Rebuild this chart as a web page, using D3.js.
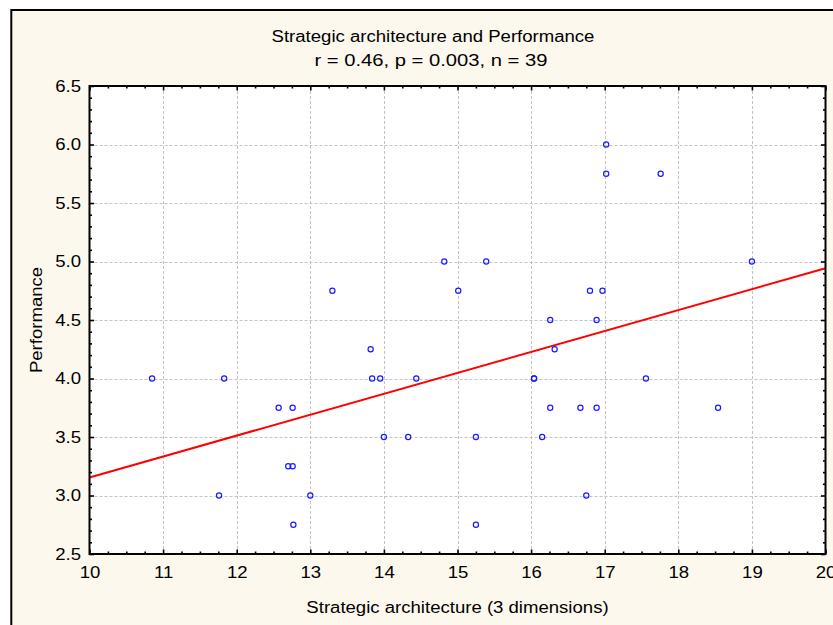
<!DOCTYPE html>
<html>
<head>
<meta charset="utf-8">
<script src="https://cdn.jsdelivr.net/npm/d3@7"></script>
<style>
  html, body { margin: 0; padding: 0; background: #ffffff; }
  svg { display: block; }
  text { font-family: "Liberation Sans", Arial, sans-serif; fill: #000; }
</style>
</head>
<body>
<svg id="chart" width="833" height="625"></svg>
<script>
// Strategic architecture score (x) versus Performance (y), one point per respondent
const architecture = [
  10.85, 11.83, 11.76, 12.57, 12.76, 12.70, 12.76, 12.77, 13.00, 13.30,
  13.82, 13.84, 13.95, 14.00, 14.33, 14.44, 14.82, 15.01, 15.39, 15.25,
  15.25, 16.04, 16.15, 16.26, 16.32, 16.26, 16.67, 16.75, 16.80, 16.89,
  16.89, 16.97, 17.02, 17.02, 17.76, 17.56, 18.54, 19.00, 16.04
];
const performance = [
  4.00, 4.00, 3.00, 3.75, 3.75, 3.25, 3.25, 2.75, 3.00, 4.75,
  4.25, 4.00, 4.00, 3.50, 3.50, 4.00, 5.00, 4.75, 5.00, 3.50,
  2.75, 4.00, 3.50, 4.50, 4.25, 3.75, 3.75, 3.00, 4.75, 4.50,
  3.75, 4.75, 6.00, 5.75, 5.75, 4.00, 3.75, 5.00, 4.00
];

// Fitted regression line: Performance = intercept + slope * Architecture
const fitIntercept = 1.366;
const fitSlope = 0.1788;

const xTicks = [10, 11, 12, 13, 14, 15, 16, 17, 18, 19, 20];
const yTicks = [2.5, 3.0, 3.5, 4.0, 4.5, 5.0, 5.5, 6.0, 6.5];

const titleText = "Strategic architecture and Performance";
const subtitleText = "r = 0.46, p = 0.003, n = 39";
const xTitle = "Strategic architecture (3 dimensions)";
const yTitle = "Performance";

const svg = d3.select("#chart");
const plotL = 89.5, plotR = 825.5, plotT = 86, plotB = 554;
const stretch = 1.16;

const x = d3.scaleLinear().domain([10, 20]).range([plotL, plotR]);
const y = d3.scaleLinear().domain([2.5, 6.5]).range([plotB, plotT]);

// Outer panel
svg.append("rect")
  .attr("x", 11.3).attr("y", 10)
  .attr("width", 900).attr("height", 700)
  .attr("fill", "#fdf8ee").attr("stroke", "#000").attr("stroke-width", 2);

// Plot area
svg.append("rect")
  .attr("x", plotL).attr("y", plotT)
  .attr("width", plotR - plotL).attr("height", plotB - plotT)
  .attr("fill", "#ffffff");

// Dashed grid at the major ticks
const grid = svg.append("g")
  .attr("stroke", "#c4c4c4").attr("stroke-width", 1)
  .attr("stroke-dasharray", "3,2");
grid.selectAll("line.gx")
  .data(xTicks.slice(1, -1)).join("line")
  .attr("x1", d => Math.round(x(d)) + 0.5).attr("x2", d => Math.round(x(d)) + 0.5)
  .attr("y1", plotT).attr("y2", plotB);
grid.selectAll("line.gy")
  .data(yTicks.slice(1, -1)).join("line")
  .attr("y1", d => Math.round(y(d)) + 0.5).attr("y2", d => Math.round(y(d)) + 0.5)
  .attr("x1", plotL).attr("x2", plotR);

// Regression line across the full x range
const fit = d => fitIntercept + fitSlope * d;
svg.append("clipPath").attr("id", "plotclip")
  .append("rect").attr("x", plotL).attr("y", plotT)
  .attr("width", plotR - plotL).attr("height", plotB - plotT);
svg.append("line")
  .attr("clip-path", "url(#plotclip)")
  .attr("x1", x(10)).attr("y1", y(fit(10)))
  .attr("x2", x(20)).attr("y2", y(fit(20)))
  .attr("stroke", "#ff0000").attr("stroke-width", 2);

// Scatter points
const pts = architecture.map((a, i) => ({ a, p: performance[i] }));
svg.append("g").selectAll("circle")
  .data(pts).join("circle")
  .attr("cx", d => x(d.a)).attr("cy", d => y(d.p))
  .attr("r", 2.6)
  .attr("fill", "none").attr("stroke", "#1a1aff").attr("stroke-width", 1.2);

// Axes: inward ticks on all four sides, minor ticks between majors
const xMinor = d3.range(10, 20.001, 0.25).filter(v => Math.abs(v - Math.round(v)) > 1e-6);
const yMinor = d3.range(2.5, 6.5001, 0.1).filter(v => Math.abs(v * 2 - Math.round(v * 2)) > 1e-6);

function styleAxis(g) {
  g.select(".domain").remove();
  g.selectAll(".tick line").attr("stroke", "#000").attr("stroke-width", 1.6);
}

// bottom
svg.append("g").attr("transform", `translate(0,${plotB})`)
  .call(d3.axisBottom(x).tickValues(xTicks).tickFormat(d3.format("d")).tickSize(-4.5).tickPadding(12.5))
  .call(styleAxis)
  .call(g => g.selectAll("text").attr("font-size", 16));
svg.append("g").attr("transform", `translate(0,${plotB})`)
  .call(d3.axisBottom(x).tickValues(xMinor).tickFormat("").tickSize(-2.5))
  .call(styleAxis);
// top
svg.append("g").attr("transform", `translate(0,${plotT})`)
  .call(d3.axisTop(x).tickValues(xTicks).tickFormat("").tickSize(-4.5))
  .call(styleAxis);
svg.append("g").attr("transform", `translate(0,${plotT})`)
  .call(d3.axisTop(x).tickValues(xMinor).tickFormat("").tickSize(-2.5))
  .call(styleAxis);
// left
svg.append("g").attr("transform", `translate(${plotL},0)`)
  .call(d3.axisLeft(y).tickValues(yTicks).tickFormat(d3.format(".1f")).tickSize(-4.5).tickPadding(8.5))
  .call(styleAxis)
  .call(g => g.selectAll("text").attr("font-size", 16));
svg.append("g").attr("transform", `translate(${plotL},0)`)
  .call(d3.axisLeft(y).tickValues(yMinor).tickFormat("").tickSize(-2.5))
  .call(styleAxis);
// right
svg.append("g").attr("transform", `translate(${plotR},0)`)
  .call(d3.axisRight(y).tickValues(yTicks).tickFormat("").tickSize(-4.5))
  .call(styleAxis);
svg.append("g").attr("transform", `translate(${plotR},0)`)
  .call(d3.axisRight(y).tickValues(yMinor).tickFormat("").tickSize(-2.5))
  .call(styleAxis);

// Plot frame
svg.append("rect")
  .attr("x", plotL).attr("y", plotT)
  .attr("width", plotR - plotL).attr("height", plotB - plotT)
  .attr("fill", "none").attr("stroke", "#000").attr("stroke-width", 2);

// Titles
svg.append("text").attr("class", "title")
  .attr("x", 433).attr("y", 41.5).attr("text-anchor", "middle")
  .attr("font-size", 16).text(titleText);
svg.append("text").attr("class", "subtitle")
  .attr("x", 431).attr("y", 65.5).attr("text-anchor", "middle")
  .attr("font-size", 16).text(subtitleText);
svg.append("text")
  .attr("x", (plotL + plotR) / 2).attr("y", 613).attr("text-anchor", "middle")
  .attr("font-size", 16).text(xTitle);
svg.append("text")
  .attr("transform", `translate(41.5,${(plotT + plotB) / 2}) rotate(-90)`)
  .attr("text-anchor", "middle")
  .attr("font-size", 16).text(yTitle);

// Widen the glyphs slightly so the lettering has the broad look of the panel font
svg.selectAll("text").each(function () {
  const el = d3.select(this);
  const w = this.getComputedTextLength();
  const target = el.classed("subtitle") ? 233 : w * stretch;
  el.attr("textLength", target).attr("lengthAdjust", "spacingAndGlyphs");
});
</script>
</body>
</html>
